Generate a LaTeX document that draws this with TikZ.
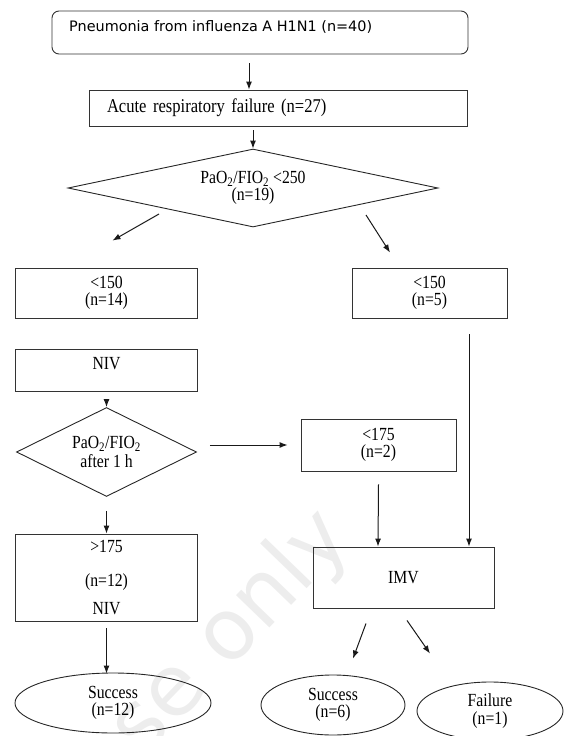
\documentclass[tikz,border=0pt]{standalone}
\usepackage{fontspec}
\setmainfont{Liberation Serif}[FakeStretch=0.85]
\newfontfamily\vsans{DejaVu Sans}
\usetikzlibrary{shapes.geometric,arrows.meta}
\newcommand\serifsz{\fontsize{18.5}{17.5}\selectfont}
\begin{document}
\begin{tikzpicture}[x=1pt,y=-1pt,
  box/.style={draw=black!80, line width=0.9pt, rectangle, inner sep=0pt, align=center, font=\serifsz},
  dia/.style={draw=black!85, line width=0.9pt, diamond, inner sep=0pt, align=center, font=\serifsz},
  ell/.style={draw=black!85, line width=0.9pt, ellipse, inner sep=0pt, align=center, font=\serifsz},
  arr/.style={-{Latex[length=8pt,width=6pt]}, line width=1pt, black!90},
  wmark/.style={font=\vsans\fontsize{85}{85}\selectfont, text=black!7, rotate=46, inner sep=0pt}]
\useasboundingbox (0,0) rectangle (564,736);
% watermark
\node[wmark] (wm) at (231,634) {se only};
% nodes
\node[draw=black!80, line width=0.9pt, rounded corners=7pt, minimum width=416pt, minimum height=43pt, inner sep=0pt] (top) at (260,32.5) {};
\node[anchor=west, inner sep=0pt, font=\vsans\fontsize{14.4}{17}\selectfont] (toptxt) at (69,27) {Pneumonia from influenza A H1N1 (n=40)};
\node[box, minimum width=378pt, minimum height=36pt, text width=342pt, inner xsep=18pt, align=left, font=\fontsize{19.5}{22}\selectfont] (acute) at (278,108) {Acute respiratory failure (n=27)};
\node[dia, aspect=4.74, minimum width=370pt, minimum height=78pt] (d1) at (253,188) {PaO\textsubscript{2}/FIO\textsubscript{2} <250\\(n=19)};
\node[box, minimum width=182pt, minimum height=50pt] (b150L) at (106.5,293) {<150\\(n=14)};
\node[box, minimum width=155pt, minimum height=50pt] (b150R) at (429.5,293) {<150\\(n=5)};
\node[box, minimum width=182pt, minimum height=42pt, text height=13pt, text depth=14pt] (niv) at (106.5,370) {NIV};
\node[dia, aspect=2.02, minimum width=180pt, minimum height=89pt] (d2) at (106.5,452) {PaO\textsubscript{2}/FIO\textsubscript{2}\\[1.5pt]after 1 h};
\node[box, minimum width=155pt, minimum height=52pt] (b175) at (378.5,445) {<175\\(n=2)};
\node[box, minimum width=182pt, minimum height=87pt] (bgt) at (106.5,577.5) {>175\\[16.5pt](n=12)\\[10.5pt]NIV};
\node[box, minimum width=181pt, minimum height=61pt] (imv) at (403.5,577.5) {IMV};
\node[ell, minimum width=196pt, minimum height=60pt] (e1) at (113,703) {Success\\(n=12)};
\node[ell, minimum width=144pt, minimum height=60pt] (e2) at (333,705) {Success\\(n=6)};
\node[ell, minimum width=146pt, minimum height=58pt] (e3) at (490,711) {Failure\\(n=1)};
% connectors
\draw[arr] ([xshift=-11pt,yshift=-9pt]top.south) -- ([xshift=-29pt]acute.north);
\draw[arr] ([xshift=-25pt,yshift=-4pt]acute.south) -- (d1.north);
\draw[arr] ([xshift=-94pt,yshift=-26pt]d1.center) -- ([xshift=6pt,yshift=27pt]b150L.north);
\draw[arr] ([xshift=113pt,yshift=-27pt]d1.center) -- ([xshift=-39.5pt,yshift=15pt]b150R.north);
\draw[arr] ([yshift=-9pt]niv.south) -- (d2.north);
\draw[arr] ([xshift=13pt,yshift=7pt]d2.east) -- ([xshift=-13pt]b175.west);
\draw[arr] ([yshift=-14pt]d2.south) -- (bgt.north);
\draw[arr] ([yshift=-7pt]bgt.south) -- ([xshift=-6.5pt,yshift=-1pt]e1.north);
\draw[arr] ([yshift=-13pt]b175.south) -- ([xshift=-25.5pt]imv.north);
\draw[arr] ([xshift=39.5pt,yshift=-16pt]b150R.south) -- ([xshift=65.5pt]imv.north);
\draw[arr] ([xshift=-37.5pt,yshift=-15pt]imv.south) -- ([xshift=20pt,yshift=16pt]e2.north);
\draw[arr] ([xshift=3.5pt,yshift=-12pt]imv.south) -- ([xshift=-60pt,yshift=28pt]e3.north);
\end{tikzpicture}
\end{document}
